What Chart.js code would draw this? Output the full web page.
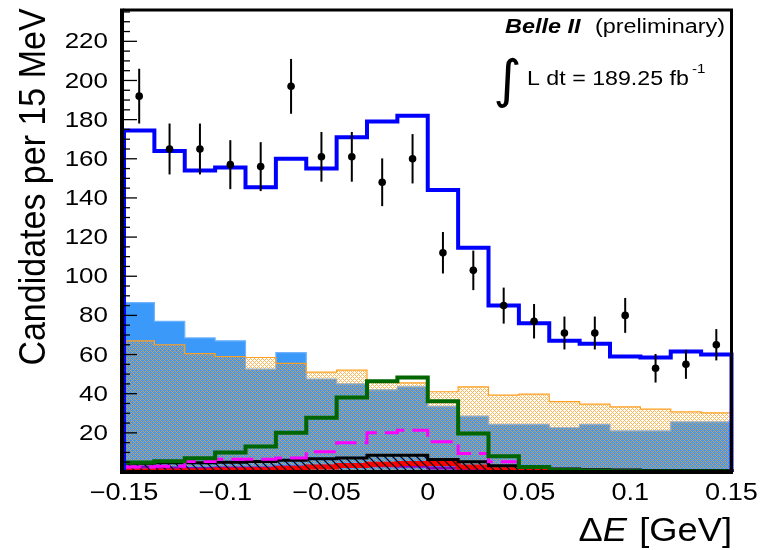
<!DOCTYPE html>
<html><head><meta charset="utf-8">
<script src="https://cdn.jsdelivr.net/npm/chart.js@4/dist/chart.umd.min.js"></script>
<style>html,body{margin:0;padding:0;background:#fff;}canvas{display:block;}</style>
</head><body>
<canvas id="c" width="761" height="550"></canvas>
<script>
// ---- data ----
const binEdges = [-0.15,-0.135,-0.12,-0.105,-0.09,-0.075,-0.06,-0.045,-0.03,-0.015,0,0.015,0.03,0.045,0.06,0.075,0.09,0.105,0.12,0.135,0.15];
const binCenters = [-0.1425,-0.1275,-0.1125,-0.0975,-0.0825,-0.0675,-0.0525,-0.0375,-0.0225,-0.0075,0.0075,0.0225,0.0375,0.0525,0.0675,0.0825,0.0975,0.1125,0.1275,0.1425];
const dataCounts = [192,165,165,157,156,197,161,161,148,160,112,103,85,77,71,71,80,53,55,65];
const dataErrors = [14,13,13,12.5,12.5,14,12.7,12.7,12.2,12.6,10.6,10.1,9.2,8.8,8.4,8.4,8.9,7.3,7.4,8];
const totalFit   = [174.5,164,154,155.5,145.5,160,155,171,179,182,144,114.5,85,76,67,65.5,59,58.5,61.5,60];
const blueFill   = [86.5,77,68.5,67,52.5,61,47.5,45,42,43.5,33.5,28.5,24.3,24.3,22.6,24.3,21,21,25.6,25.6];
const orangeHatch= [67,65,60.5,59,58.5,55.5,51,52,46.5,45.5,41,43.5,39.3,39.8,35.9,34.7,33.3,32.1,30.7,30.2];
const greenLine  = [4.8,5.5,7,10,13,20,27.7,38,46.4,48.3,36.2,19.7,8.1,2.6,1,0.6,0.4,0.3,0.3,0.3];
const magentaLine= [2.5,3,5.3,6.5,6.5,7.2,10.3,15,20,21.3,15.4,9.4,5.2,2.3,1,0.6,0.4,0.3,0.3,0.3];
const blackLine  = [4.5,4.7,4.7,5,5.3,6,6.8,7.2,8.5,8.6,6.4,5.2,3.2,2.6,1.5,1.2,1,0.8,0.8,0.8];
const redLine    = [0.5,0.5,0.7,1,1.2,1.8,2.5,3.3,4,4.3,4.3,2.5,1.2,0.6,0.4,0.3,0.3,0.3,0.3,0.3];
const purpleLine = [2.5,2,1.8,2,2,2.5,3,3,3.2,3,2,1.5,1,0.5,0.4,0.3,0.3,0.3,0.3,0.3];
const xTickValues = [-0.15,-0.1,-0.05,0,0.05,0.1,0.15];
const xTickLabels = ['\u22120.15','\u22120.1','\u22120.05','0','0.05','0.1','0.15'];
const yTickValues = [20,40,60,80,100,120,140,160,180,200,220];
const yTickLabels = ['20','40','60','80','100','120','140','160','180','200','220'];

// ---- helpers ----
function histPoints(vals, closed){
  const pts = [];
  if (closed) pts.push({x: binEdges[0], y: 0});
  vals.forEach((v,i)=>pts.push({x: binEdges[i], y: v}));
  pts.push({x: binEdges[vals.length], y: vals[vals.length-1]});
  if (closed) pts.push({x: binEdges[vals.length], y: 0});
  return pts;
}
function makePattern(size, fn){
  const c = document.createElement('canvas'); c.width = size; c.height = size;
  const g = c.getContext('2d'); fn(g, size);
  return g.createPattern(c, 'repeat');
}
const orangePat = makePattern(4, (g)=>{
  g.fillStyle = 'rgba(255,158,30,0.75)';
  for (let y=0;y<4;y++) for (let x=0;x<4;x++){
    if ((x+y)%4===0 || ((x-y)+4)%4===0) g.fillRect(x,y,1,1);
  }
});
const blackDiag = makePattern(8, (g)=>{
  g.strokeStyle = '#000'; g.lineWidth = 1.2;
  g.beginPath(); g.moveTo(0,0); g.lineTo(8,8); g.moveTo(-1,7); g.lineTo(1,9); g.moveTo(7,-1); g.lineTo(9,1); g.stroke();
});

function sText(ctx, txt, x, y, font, sx, align){
  ctx.save(); ctx.font = font; ctx.translate(x, y); ctx.scale(sx, 1);
  ctx.textAlign = align || 'left'; ctx.fillText(txt, 0, 0); ctx.restore();
}

const decor = {
  id: 'decor',
  beforeDatasetDraw(chart, args){
    if (args.index !== 0) return;
    const {ctx, scales:{x, y}} = chart;
    ctx.save(); ctx.strokeStyle = '#000'; ctx.lineWidth = 2;
    binCenters.forEach((c,i)=>{
      const px = x.getPixelForValue(c);
      ctx.beginPath();
      ctx.moveTo(px, y.getPixelForValue(dataCounts[i]-dataErrors[i]));
      ctx.lineTo(px, y.getPixelForValue(dataCounts[i]+dataErrors[i]));
      ctx.stroke();
    });
    ctx.restore();
  },
  afterDraw(chart){
    const {ctx, chartArea:a, scales:{x, y}} = chart;
    ctx.save();
    // frame
    ctx.strokeStyle = '#000';
    ctx.lineWidth = 3; ctx.beginPath(); ctx.moveTo(a.left-1, a.top); ctx.lineTo(a.right, a.top); ctx.lineTo(a.right, a.bottom); ctx.stroke();
    ctx.lineWidth = 4; ctx.beginPath(); ctx.moveTo(a.left-2, a.top-1.5); ctx.lineTo(a.left-2, a.bottom); ctx.lineTo(a.right+1.5, a.bottom); ctx.stroke();
    // y ticks (major every 20, minor every 5)
    ctx.lineWidth = 1.3;
    for (let v = 5; v <= 235; v += 5){
      const py = y.getPixelForValue(v);
      const len = (v % 20 === 0) ? 14 : 7;
      ctx.beginPath(); ctx.moveTo(a.left-1, py); ctx.lineTo(a.left-1+len, py); ctx.stroke();
    }
    ctx.fillStyle = '#000';
    // y tick labels
    ctx.textBaseline = 'middle';
    yTickValues.forEach((v,i)=>sText(ctx, yTickLabels[i], 108, y.getPixelForValue(v)+1, '22px "Liberation Sans"', 1.18, 'right'));
    // x tick labels
    ctx.textBaseline = 'alphabetic';
    xTickValues.forEach((v,i)=>sText(ctx, xTickLabels[i], x.getPixelForValue(v), 500, '23px "Liberation Sans"', 1.18, 'center'));
    // y title
    ctx.save();
    ctx.translate(45, 187); ctx.rotate(-Math.PI/2); ctx.scale(1, 1.1);
    ctx.font = '34px "Liberation Sans"'; ctx.textAlign = 'center'; ctx.textBaseline = 'alphabetic';
    ctx.fillText('Candidates per 15 MeV', 0, 0);
    ctx.restore();
    // x title: ΔE [GeV]
    ctx.save();
    const fs = 33, sxT = 1.1;
    const fR = fs+'px "Liberation Sans"', fI = 'italic '+fs+'px "Liberation Sans"';
    ctx.font = fR; const w1 = ctx.measureText('\u0394').width; const w3 = ctx.measureText(' [GeV]').width;
    ctx.font = fI; const w2 = ctx.measureText('E').width;
    const tot = (w1+w2+w3+2)*sxT;
    const x0 = 732 - tot;
    ctx.translate(x0, 541); ctx.scale(sxT, 1);
    ctx.font = fR; ctx.fillText('\u0394', 0, 0);
    ctx.font = fI; ctx.fillText('E', w1, 0);
    ctx.font = fR; ctx.fillText(' [GeV]', w1+w2+2, 0);
    ctx.restore();
    // Belle II (preliminary)
    sText(ctx, 'Belle II', 505, 33, 'italic bold 20px "Liberation Sans"', 1.17, 'left');
    sText(ctx, '(preliminary)', 595, 33, '20px "Liberation Sans"', 1.17, 'left');
    // integral luminosity
    sText(ctx, '\u222B', 493, 97, '52px "DejaVu Sans"', 1.05, 'left');
    sText(ctx, 'L dt = 189.25 fb', 527, 85, '20px "Liberation Sans"', 1.16, 'left');
    sText(ctx, '-1', 692, 73, '13px "Liberation Sans"', 1.16, 'left');
    ctx.restore();
  }
};

const lineDS = (label, vals, color, width, extra) => Object.assign({
  label, data: histPoints(vals, true), borderColor: color, borderWidth: width,
  stepped: true, fill: false, pointRadius: 0, tension: 0, clip: 6
}, extra || {});

new Chart(document.getElementById('c'), {
  type: 'line',
  data: {
    datasets: [
      { type: 'scatter', label: 'Data', data: binCenters.map((c,i)=>({x:c, y:dataCounts[i]})),
        pointRadius: 3.8, pointBackgroundColor: '#000', pointBorderColor: '#000', pointBorderWidth: 0, showLine: false },
      lineDS('Total fit', totalFit, '#0000ff', 4),
      lineDS('Green component', greenLine, '#006600', 4),
      lineDS('Magenta component', magentaLine, '#ff00ff', 3, {borderDash: [22, 8]}),
      lineDS('Black component', blackLine, '#000000', 3, {fill: 'origin', backgroundColor: blackDiag}),
      lineDS('Red component', redLine, '#ff0000', 5),
      lineDS('Purple component', purpleLine, '#8e00c8', 3),
      { label: 'Orange hatched', data: histPoints(orangeHatch, false), stepped: true, fill: 'origin',
        backgroundColor: orangePat, borderColor: '#ffa020', borderWidth: 1.2, pointRadius: 0 },
      { label: 'Blue filled', data: histPoints(blueFill, false), stepped: true, fill: 'origin',
        backgroundColor: '#3b99fa', borderColor: '#6db3ff', borderWidth: 1.2, pointRadius: 0 }
    ]
  },
  options: {
    responsive: false, animation: false, devicePixelRatio: 1,
    layout: { padding: { left: 124, right: 29.5, top: 10, bottom: 78 } },
    plugins: { legend: { display: false }, tooltip: { enabled: false } },
    scales: {
      x: { type: 'linear', min: -0.15, max: 0.15, display: false },
      y: { type: 'linear', min: 0, max: 236, display: false }
    }
  },
  plugins: [decor]
});
</script>
</body></html>
